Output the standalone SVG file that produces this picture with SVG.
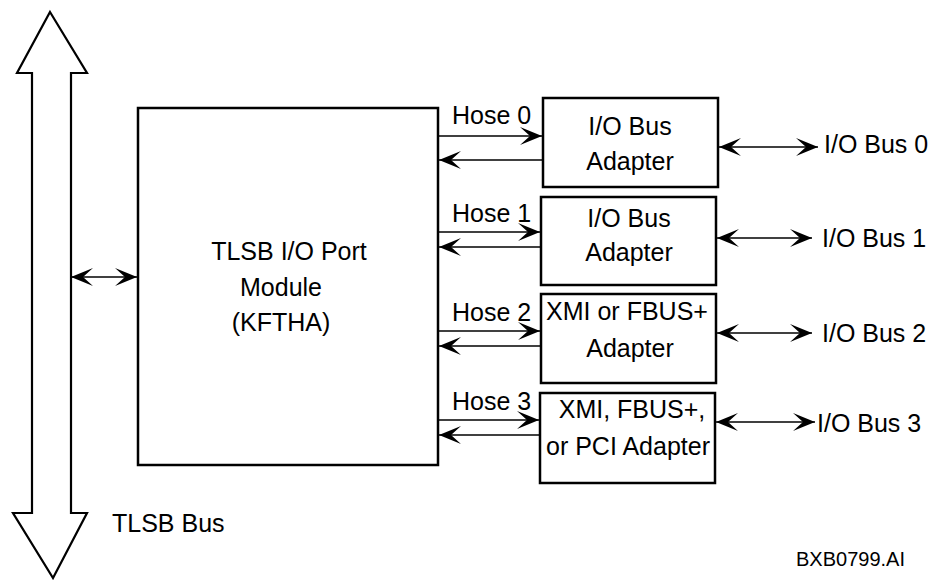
<svg xmlns="http://www.w3.org/2000/svg" width="934" height="580" viewBox="0 0 934 580">
<defs>
<marker id="ah" viewBox="-23 -10 24 20" refX="0" refY="0" markerWidth="24" markerHeight="20" markerUnits="userSpaceOnUse" orient="auto-start-reverse" overflow="visible">
<path d="M0,0 L-22,-9 L-12,0 L-22,9 Z" fill="#000"/>
</marker>
<style>
.box{fill:#fff;stroke:#000;stroke-width:2.5}
.bus{fill:#fff;stroke:#000;stroke-width:2.2;stroke-linejoin:miter}
.ln{stroke:#000;stroke-width:1.4;fill:none}
.t{font-family:"Liberation Sans",Arial,sans-serif;font-size:25px;fill:#000}
.m{text-anchor:middle}
.s{font-family:"Liberation Sans",Arial,sans-serif;font-size:20px;fill:#000}
</style>
</defs>
<rect width="934" height="580" fill="#fff"/>

<g id="tlsb-bus">
<path class="bus" d="M50,12 L87,73 L71,73 L71,513 L87,513 L53,578 L13,513 L32,513 L32,73 L17,73 Z"/>
<text class="t" x="112" y="532">TLSB Bus</text>
</g>

<g id="module">
<rect class="box" x="138" y="108" width="300" height="357"/>
<text class="t m" x="289" y="260">TLSB I/O Port</text>
<text class="t m" x="281" y="296">Module</text>
<text class="t m" x="281" y="331">(KFTHA)</text>
</g>

<g id="adapter0">
<rect class="box" x="543" y="98" width="175" height="89"/>
<text class="t m" x="630" y="135">I/O Bus</text>
<text class="t m" x="630" y="170">Adapter</text>
</g>
<g id="adapter1">
<rect class="box" x="541" y="197" width="175" height="88"/>
<text class="t m" x="629" y="227">I/O Bus</text>
<text class="t m" x="629" y="261">Adapter</text>
</g>
<g id="adapter2">
<rect class="box" x="541" y="294" width="175" height="89"/>
<text class="t m" x="627" y="320">XMI or FBUS+</text>
<text class="t m" x="630" y="357">Adapter</text>
</g>
<g id="adapter3">
<rect class="box" x="540" y="393" width="175" height="90"/>
<text class="t m" x="632" y="418">XMI, FBUS+,</text>
<text class="t m" x="628" y="455">or PCI Adapter</text>
</g>

<g id="labels">
<text class="t" x="452" y="124">Hose 0</text>
<text class="t" x="452" y="222">Hose 1</text>
<text class="t" x="452" y="321">Hose 2</text>
<text class="t" x="452" y="410">Hose 3</text>
<text class="t" x="824" y="153">I/O Bus 0</text>
<text class="t" x="822" y="247">I/O Bus 1</text>
<text class="t" x="822" y="342">I/O Bus 2</text>
<text class="t" x="817" y="432">I/O Bus 3</text>
<text class="s" x="796" y="566">BXB0799.AI</text>
</g>

<g id="connectors">
<line class="ln" x1="71" y1="277" x2="137" y2="277" marker-start="url(#ah)" marker-end="url(#ah)"/>
<line class="ln" x1="439" y1="136" x2="542" y2="136" marker-end="url(#ah)"/>
<line class="ln" x1="542" y1="160" x2="439" y2="160" marker-end="url(#ah)"/>
<line class="ln" x1="439" y1="232" x2="540" y2="232" marker-end="url(#ah)"/>
<line class="ln" x1="540" y1="247" x2="439" y2="247" marker-end="url(#ah)"/>
<line class="ln" x1="439" y1="331" x2="540" y2="331" marker-end="url(#ah)"/>
<line class="ln" x1="540" y1="346" x2="439" y2="346" marker-end="url(#ah)"/>
<line class="ln" x1="439" y1="420" x2="539" y2="420" marker-end="url(#ah)"/>
<line class="ln" x1="539" y1="435" x2="439" y2="435" marker-end="url(#ah)"/>
<line class="ln" x1="719" y1="147" x2="818" y2="147" marker-start="url(#ah)" marker-end="url(#ah)"/>
<line class="ln" x1="717" y1="238" x2="812" y2="238" marker-start="url(#ah)" marker-end="url(#ah)"/>
<line class="ln" x1="717" y1="333" x2="812" y2="333" marker-start="url(#ah)" marker-end="url(#ah)"/>
<line class="ln" x1="716" y1="422" x2="815" y2="422" marker-start="url(#ah)" marker-end="url(#ah)"/>
</g>
</svg>
